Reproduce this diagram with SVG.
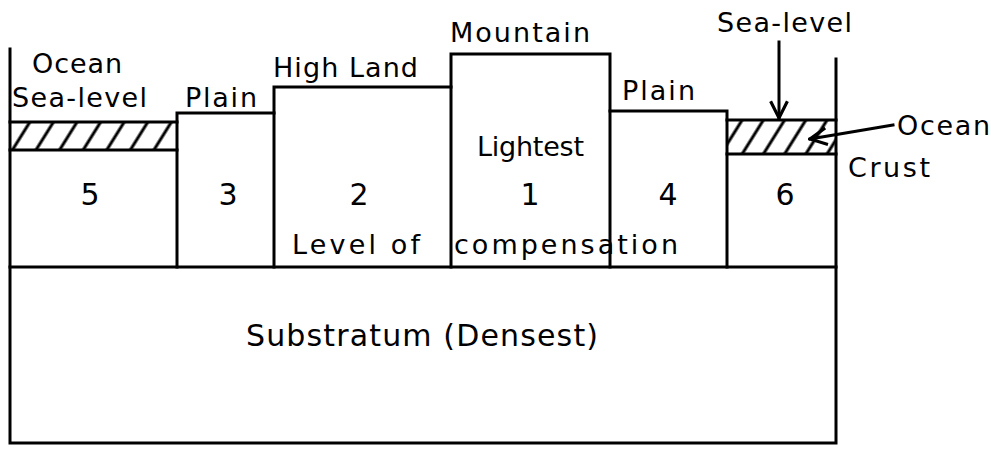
<svg xmlns="http://www.w3.org/2000/svg" width="991" height="450" viewBox="0 0 991 450">
<style>
.ln{stroke:#000;stroke-width:3;fill:none;stroke-linecap:square}
.t{font-family:"DejaVu Sans","Liberation Sans",sans-serif;font-size:27px;fill:#000}
.n{font-family:"DejaVu Sans","Liberation Sans",sans-serif;font-size:30px;fill:#000}
</style>
<defs>
<pattern id="hatchL" width="20" height="40" patternUnits="userSpaceOnUse" patternTransform="rotate(32)">
<line x1="10" y1="0" x2="10" y2="40" stroke="#000" stroke-width="3"/>
</pattern>
<pattern id="hatchR" width="18" height="40" patternUnits="userSpaceOnUse" patternTransform="rotate(32)">
<line x1="9" y1="0" x2="9" y2="40" stroke="#000" stroke-width="3"/>
</pattern>
<marker id="ah" viewBox="0 0 20 20" refX="18" refY="10" markerWidth="7" markerHeight="7" markerUnits="strokeWidth" orient="auto">
<path d="M2,2 L18,10 L2,18" fill="none" stroke="#000" stroke-width="3"/>
</marker>
</defs>
<rect width="991" height="450" fill="#fff"/>

<g id="oceanLeft">
<rect x="10" y="122" width="167" height="28" fill="url(#hatchL)"/>
<line class="ln" x1="10" y1="122" x2="177" y2="122"/>
</g>
<g id="block5">
<path class="ln" d="M10,150 H177"/>
<text class="n" x="90" y="205" text-anchor="middle">5</text>
</g>
<g id="block3">
<path class="ln" d="M177,267 V113 H274"/>
<text class="n" x="228" y="205" text-anchor="middle">3</text>
</g>
<g id="block2">
<path class="ln" d="M274,267 V87 H451"/>
<text class="n" x="359" y="205" text-anchor="middle">2</text>
</g>
<g id="block1">
<path class="ln" d="M451,267 V54 H610 V267"/>
<text class="n" x="530" y="205" text-anchor="middle">1</text>
</g>
<g id="block4">
<path class="ln" d="M610,111 H727 V267"/>
<text class="n" x="668" y="205" text-anchor="middle">4</text>
</g>
<g id="oceanRight">
<rect x="727" y="120" width="109" height="34" fill="url(#hatchR)"/>
<line class="ln" x1="727" y1="120" x2="836" y2="120"/>
</g>
<g id="block6">
<path class="ln" d="M727,154 H836"/>
<text class="n" x="785" y="205" text-anchor="middle">6</text>
</g>
<g id="substratum">
<path class="ln" d="M10,49 V443 H836 V59"/>
<path class="ln" d="M10,267 H836"/>
<text class="n" x="246" y="346" textLength="352" lengthAdjust="spacing">Substratum (Densest)</text>
</g>

<g id="labels">
<text class="t" x="32" y="73" textLength="90" lengthAdjust="spacing">Ocean</text>
<text class="t" x="12" y="107" textLength="135" lengthAdjust="spacing">Sea-level</text>
<text class="t" x="185" y="107" textLength="72" lengthAdjust="spacing">Plain</text>
<text class="t" x="273" y="77" textLength="145" lengthAdjust="spacing">High Land</text>
<text class="t" x="450" y="42" textLength="140" lengthAdjust="spacing">Mountain</text>
<text class="t" x="717" y="32" textLength="135" lengthAdjust="spacing">Sea-level</text>
<text class="t" x="622" y="100" textLength="73" lengthAdjust="spacing">Plain</text>
<text class="t" x="477" y="156" textLength="107" lengthAdjust="spacing">Lightest</text>
<text class="t" x="897" y="135" textLength="93" lengthAdjust="spacing">Ocean</text>
<text class="t" x="848" y="177" textLength="82" lengthAdjust="spacing">Crust</text>
<text class="t" x="292" y="254" textLength="128" lengthAdjust="spacing">Level of</text>
<text class="t" x="454" y="254" textLength="224" lengthAdjust="spacing">compensation</text>
</g>

<g id="connectors">
<line class="ln" x1="779" y1="42" x2="779" y2="118" marker-end="url(#ah)"/>
<line class="ln" x1="893" y1="125" x2="810" y2="139" marker-end="url(#ah)"/>
</g>
</svg>
